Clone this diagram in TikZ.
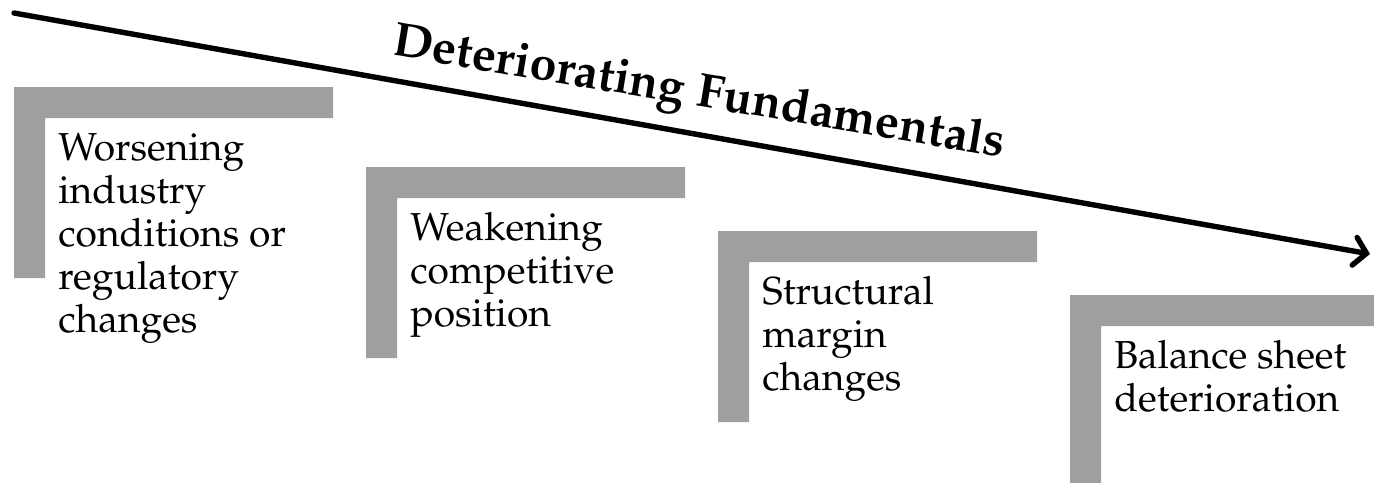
\documentclass[tikz,border=0pt]{standalone}
\usepackage[T1]{fontenc}
\usepackage{mathpazo}
\usetikzlibrary{arrows.meta}

\definecolor{bargray}{RGB}{160,159,158}

\tikzset{
    bar/.style={fill=bargray},
    item/.style={anchor=north west, inner sep=0pt, align=left,
        font=\fontsize{19.5}{21.5}\selectfont},
    trendlabel/.style={anchor=base, inner sep=0pt,
        font=\fontsize{24}{28}\selectfont\bfseries},
}

\begin{document}
\begin{tikzpicture}[x=0.5pt,y=-0.5pt]
    \useasboundingbox (0,0) rectangle (1374,482);

    % Draw the grey corner bars
    \foreach \x/\y in {14/87, 366/167, 718/231, 1070/295}
        \fill[bar] (\x,\y) rectangle ++(319,31) (\x,\y) rectangle ++(31,191);

    % Draw the trend arrow
    \coordinate (start) at (14,13);
    \coordinate (end) at (1370,254);
    \draw[line width=2.7pt, line cap=round,
        -{Straight Barb[length=6pt,width=14pt,line cap=round]}] (start) -- (end);
    \node[trendlabel, rotate=-9.5] (trend) at (697,106) {Deteriorating Fundamentals};

    % Steps
    \node[item] (worse) at (58,133) {Worsening\\industry\\conditions or\\regulatory\\changes};
    \node[item] (weak) at (410,212) {Weakening\\competitive\\position};
    \node[item] (struct) at (762,276) {Structural\\margin\\changes};
    \node[item] (bal) at (1114,340) {Balance sheet\\deterioration};
\end{tikzpicture}
\end{document}
